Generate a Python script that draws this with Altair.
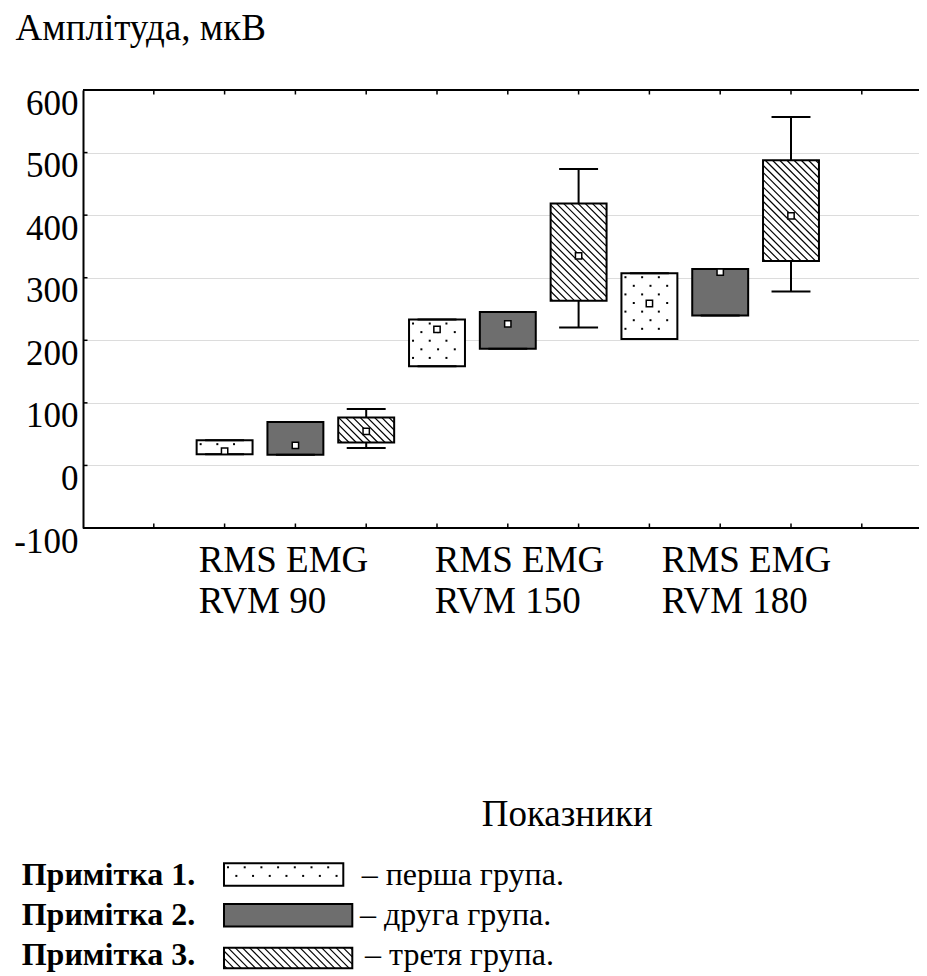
import math
import altair as alt
import pandas as pd

# ---------------- data ----------------
categories = ["RMS EMG\nRVM 90", "RMS EMG\nRVM 150", "RMS EMG\nRVM 180"]
groups = ["перша група", "друга група", "третя група"]
mean_vals    = [22.8, 32.0, 54.3, 217.3, 226.2, 334.8, 258.8, 308.8, 398.7]
box_low      = [18.0, 17.0, 36.7, 158.6, 186.3, 263.0, 202.2, 239.6, 326.8]
box_high     = [40.4, 69.6, 76.7, 233.2, 245.4, 418.5, 307.2, 314.0, 487.7]
whisker_low  = [18.0, 17.0, 28.0, 158.6, 186.3, 220.4, 202.2, 239.6, 278.0]
whisker_high = [40.4, 69.6, 90.0, 233.2, 245.4, 473.8, 307.2, 314.0, 557.0]
y_ticks = [-100, 0, 100, 200, 300, 400, 500, 600]
note_labels = ["Примітка 1.", "Примітка 2.", "Примітка 3."]
note_texts = ["– перша група.", "– друга група.", "– третя група."]

# ---------------- layout ----------------
FONT = "Liberation Serif"
W, H = 836, 438
PAD_L, PAD_T, PAD_B = 75, 82, 448
PX_PER_UNIT = 70.8
X_MAX = W / PX_PER_UNIT
Y_MIN, Y_MAX = -100, 600
SX = W / X_MAX
SY = H / (Y_MAX - Y_MIN)
ORG_X, ORG_Y = 8 + PAD_L, 8 + PAD_T          # page position of plot origin
BOX_HALF, CAP_HALF = 0.395, 0.275
GROUP_FILL = ["white", "#6e6e6e", "white"]
LABEL_SHIFT = [-1.366, -1.033, -0.826]       # left edge of category labels vs group centre

xs = alt.Scale(domain=[0, X_MAX], nice=False, zero=False)
ys = alt.Scale(domain=[Y_MIN, Y_MAX], nice=False, zero=False)

y_axis = alt.Axis(values=y_ticks, labelExpr="'' + datum.value",
                  title="Амплітуда, мкВ", titleAngle=0, titleAlign="left",
                  titleBaseline="alphabetic", titleX=15 - ORG_X, titleY=39.3 - ORG_Y,
                  titleFontSize=37, titleFont=FONT, titleFontWeight="normal",
                  titleColor="black",
                  labelFont=FONT, labelFontSize=35, labelColor="black",
                  labelBaseline="top", labelAlign="right", labelPadding=5,
                  labelOffset=-4, labelOverlap=False,
                  ticks=False, domain=True, domainColor="black", domainWidth=2,
                  grid=True, gridColor="#dcdcdc", gridWidth=1)
x_axis = alt.Axis(title="Показники", titleX=566.7 - ORG_X, titleY=825 - (ORG_Y + H),
                  titleAlign="center", titleBaseline="alphabetic",
                  titleFontSize=37, titleFont=FONT, titleFontWeight="normal",
                  titleColor="black", labels=False, ticks=False, domain=False, grid=False)


def X(field):
    return alt.X(field, scale=xs, axis=x_axis)


def Y(field):
    return alt.Y(field, scale=ys, axis=y_axis)


def px_to_x(px):
    return (px - ORG_X) / SX


def py_to_y(py):
    return Y_MAX - (py - ORG_Y) / SY


def hatch(x0, x1, ylo, yhi, step=7.2):
    L, R = x0 * SX, x1 * SX
    T, B = (Y_MAX - yhi) * SY, (Y_MAX - ylo) * SY
    out = []
    for k in range(math.ceil((T - R) / step), math.floor((B - L) / step) + 1):
        c = k * step
        xa, xb = max(L, T - c), min(R, B - c)
        if xb - xa > 0.6:
            out.append(dict(hx=xa / SX, hy=Y_MAX - (xa + c) / SY,
                            hx2=xb / SX, hy2=Y_MAX - (xb + c) / SY))
    return out


def dots(x0, x1, ylo, yhi, hx=8.35, vy=8.6):
    L, R = x0 * SX, x1 * SX
    T, B = (Y_MAX - yhi) * SY, (Y_MAX - ylo) * SY
    out, r, yy = [], 0, T + 4
    while yy < B - 2:
        xx = L + 4 + (r % 2) * hx
        while xx < R - 2:
            out.append(dict(dx=xx / SX, dy=Y_MAX - yy / SY))
            xx += 2 * hx
        yy += vy
        r += 1
    return out


rows = []
for ci in range(len(categories)):
    for gi in range(len(groups)):
        i = ci * len(groups) + gi
        pos = 2 + ci * 3 + gi
        rows.append(dict(pos=pos, x0=pos - BOX_HALF, x1=pos + BOX_HALF,
                         c0=pos - CAP_HALF, c1=pos + CAP_HALF,
                         mean=mean_vals[i], blo=box_low[i], bhi=box_high[i],
                         wlo=whisker_low[i], whi=whisker_high[i],
                         fill=GROUP_FILL[gi], grp=gi))
box_df = pd.DataFrame(rows)

# legend swatches (page pixel layout converted through the same scales)
sw_left = 224
sw_right = [343.3, 352.3, 352.3]
sw_top = [863.3, 904.0, 947.7]
sw_bot = [885.7, 926.5, 968.3]
sw_rows = []
for gi in range(3):
    sw_rows.append(dict(x0=px_to_x(sw_left), x1=px_to_x(sw_right[gi]),
                        blo=py_to_y(sw_bot[gi]), bhi=py_to_y(sw_top[gi]),
                        fill=GROUP_FILL[gi], grp=gi))
sw_df = pd.DataFrame(sw_rows)

all_rects = pd.concat([box_df[["x0", "x1", "blo", "bhi", "fill", "grp"]], sw_df], ignore_index=True)

hatch_rows, dot_rows = [], []
for _, r in all_rects.iterrows():
    if r.grp == 2:
        hatch_rows += hatch(r.x0, r.x1, r.blo, r.bhi)
    elif r.grp == 0:
        dot_rows += dots(r.x0, r.x1, r.blo, r.bhi)
hatch_df = pd.DataFrame(hatch_rows)
dot_df = pd.DataFrame(dot_rows)

# frame: top / bottom borders and inward ticks
border_df = pd.DataFrame(dict(y=[Y_MAX, Y_MIN], xa=[0, 0], xb=[X_MAX, X_MAX]))
tick_len_y = 4.5 / SY
tick_len_x = 4.5 / SX
xt = list(range(1, 12))
vtick_df = pd.DataFrame(dict(x=xt * 2,
                             ya=[Y_MAX] * len(xt) + [Y_MIN] * len(xt),
                             yb=[Y_MAX - tick_len_y] * len(xt) + [Y_MIN + tick_len_y] * len(xt)))
htick_df = pd.DataFrame(dict(y=y_ticks[1:-1], xa=0, xb=tick_len_x))

cat_df = pd.DataFrame(dict(label=categories,
                           x=[3 * k + 3 + LABEL_SHIFT[k] for k in range(3)]))

note_baselines = [885, 925, 965]
notes_df = pd.DataFrame(dict(
    label=note_labels, text=note_texts,
    lx=[px_to_x(21.7)] * 3,
    tx=[px_to_x(p) for p in [361.7, 360.0, 365.0]],
    ty=[py_to_y(p) for p in note_baselines]))

# ---------------- layers ----------------
whiskers = alt.Chart(box_df).mark_rule(color="black", strokeWidth=2).encode(
    x=X("pos:Q"), y=Y("wlo:Q"), y2="whi:Q")

caps_lo = alt.Chart(box_df).mark_rule(color="black", strokeWidth=2).encode(
    x=X("c0:Q"), x2="c1:Q", y=Y("wlo:Q"))
caps_hi = alt.Chart(box_df).mark_rule(color="black", strokeWidth=2).encode(
    x=X("c0:Q"), x2="c1:Q", y=Y("whi:Q"))

rect_fill = alt.Chart(all_rects).mark_rect(stroke=None).encode(
    x=X("x0:Q"), x2="x1:Q", y=Y("blo:Q"), y2="bhi:Q",
    fill=alt.Fill("fill:N", scale=None))

hatch_layer = alt.Chart(hatch_df).mark_rule(color="black", strokeWidth=1.2).encode(
    x=X("hx:Q"), x2="hx2:Q", y=Y("hy:Q"), y2="hy2:Q")

dot_layer = alt.Chart(dot_df).mark_square(color="black", size=4, opacity=1).encode(
    x=X("dx:Q"), y=Y("dy:Q"))

rect_outline = alt.Chart(all_rects).mark_rect(fillOpacity=0, stroke="black", strokeWidth=2).encode(
    x=X("x0:Q"), x2="x1:Q", y=Y("blo:Q"), y2="bhi:Q")

means = alt.Chart(box_df).mark_square(size=40, fill="white", stroke="black",
                                      strokeWidth=1.5, opacity=1, filled=False).encode(
    x=X("pos:Q"), y=Y("mean:Q"))

borders = alt.Chart(border_df).mark_rule(color="black", strokeWidth=2).encode(
    x=X("xa:Q"), x2="xb:Q", y=Y("y:Q"))

vticks = alt.Chart(vtick_df).mark_rule(color="black", strokeWidth=1.5).encode(
    x=X("x:Q"), y=Y("ya:Q"), y2="yb:Q")

hticks = alt.Chart(htick_df).mark_rule(color="black", strokeWidth=1.5).encode(
    x=X("xa:Q"), x2="xb:Q", y=Y("y:Q"))

cat_labels = alt.Chart(cat_df).mark_text(
    align="left", baseline="alphabetic", lineBreak="\n", lineHeight=41.3,
    fontSize=37, font=FONT, color="black").encode(
    x=X("x:Q"),
    y=alt.value(571.7 - ORG_Y),
    text="label:N")

note_bold = alt.Chart(notes_df).mark_text(
    align="left", baseline="alphabetic", fontSize=32, fontWeight="bold",
    font=FONT, color="black").encode(
    x=X("lx:Q"), y=Y("ty:Q"), text="label:N")

note_desc = alt.Chart(notes_df).mark_text(
    align="left", baseline="alphabetic", fontSize=32,
    font=FONT, color="black").encode(
    x=X("tx:Q"), y=Y("ty:Q"), text="text:N")

chart = alt.layer(
    whiskers, rect_fill, hatch_layer, dot_layer, rect_outline,
    caps_lo, caps_hi, means, borders, vticks, hticks,
    cat_labels, note_bold, note_desc
).properties(
    width=W, height=H,
    autosize=alt.AutoSizeParams(type="none"),
    padding={"left": PAD_L, "top": PAD_T, "right": 0, "bottom": PAD_B},
    background="white",
).configure_view(stroke=None)

chart.save("out.html", embed_options={"renderer": "svg", "actions": False})
